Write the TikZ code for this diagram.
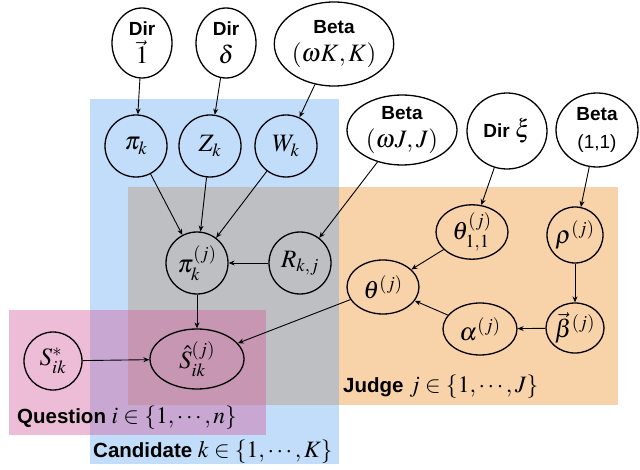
\documentclass[tikz,border=0pt]{standalone}
\usepackage{mathptmx}
\usepackage[no-math]{fontspec}
\setmainfont{Liberation Sans}
\usetikzlibrary{shapes.geometric,arrows.meta}
\definecolor{candblue}{RGB}{194,221,249}
\definecolor{judgeorange}{RGB}{248,211,170}
\definecolor{bothgray}{RGB}{190,191,195}
\definecolor{questpink}{RGB}{210,90,155}
\newcommand{\bword}[2][19]{{\fontsize{#1}{#1}\selectfont\bfseries #2}}
\begin{document}
\begin{tikzpicture}[x=1pt,y=-1pt,
	var/.style={draw,ellipse,line width=1.3pt,inner sep=0pt,align=center,font=\fontsize{25}{28}\selectfont},
	edge/.style={-{Stealth[length=6pt,width=5pt]},line width=0.9pt},
	plate/.style={anchor=west,inner sep=0pt,font=\fontsize{23.5}{26}\selectfont}]
			\useasboundingbox (0,0) rectangle (640,470);
			\fill[candblue] (90,99) rectangle (339,464);
			\fill[judgeorange] (339,187) rectangle (618,405);
			\fill[bothgray] (128,187) rectangle (339,405);
			\fill[questpink,fill opacity=0.4] (9,310) rectangle (266,435);
			\node[plate] (question) at (17,418) {\bword[20.5]{Question }$i\in\{1,\cdots,n\}$};
			\node[plate] (candidate) at (93,452) {\bword[20.5]{Candidate }$k\in\{1,\cdots,K\}$};
			\node[plate] (judge) at (343,387) {\bword[20.5]{Judge }$j\in\{1,\cdots,J\}$};
			\node[var,minimum width=60,minimum height=70] (dirpi) at (142,43) {\bword{Dir}\\$\vec{1}$};
			\node[var,minimum width=60,minimum height=70] (dirz) at (226,43) {\bword{Dir}\\$\delta$};
			\node[var,minimum width=112,minimum height=84] (betaw) at (334,44) {\bword{Beta}\\$(\omega K,K)$};
			\node[var,minimum width=110,minimum height=70] (betar) at (402,130) {\bword{Beta}\\$(\omega J,J)$};
			\node[var,minimum width=80,minimum height=76] (dirtheta) at (507,131) {\bword{Dir }$\xi$};
			\node[var,minimum width=82,minimum height=74] (betarho) at (597,130) {\bword{Beta}\\{\fontsize{19}{19}\selectfont(1,1)}};
			\node[var,minimum size=62] (pik) at (136,146) {$\pi_k$};
			\node[var,minimum size=62] (zk) at (210,146) {$Z_k$};
			\node[var,minimum size=62] (wk) at (286,146) {$W_k$};
			\node[var,minimum size=62] (pikj) at (197,263) {$\pi_k^{(j)}$};
			\node[var,minimum size=62] (rkj) at (300,263) {$R_{k,j}$};
			\node[var,minimum width=72,minimum height=50] (thetaone) at (472,232) {$\theta_{1,1}^{(j)}$};
			\node[var,minimum width=56,minimum height=56] (rho) at (575,235) {$\rho^{(j)}$};
			\node[var,minimum width=72,minimum height=54] (theta) at (383,287) {$\theta^{(j)}$};
			\node[var,minimum width=74,minimum height=52] (alpha) at (480,329) {$\alpha^{(j)}$};
			\node[var,minimum width=58,minimum height=50] (beta) at (575,328) {$\vec{\beta}^{(j)}$};
			\node[var,minimum width=94,minimum height=60] (shat) at (197,359) {$\hat{S}_{ik}^{(j)}$};
			\node[var,minimum size=58] (sstar) at (53,361) {$S_{ik}^{*}$};
			\draw[edge] (dirpi) to (pik);
			\draw[edge] (dirz) to (zk);
			\draw[edge] (betaw) to (wk);
			\draw[edge] (pik) to (pikj);
			\draw[edge] (zk) to (pikj);
			\draw[edge] (wk) to (pikj);
			\draw[edge] (betar) to (rkj);
			\draw[edge] (rkj) to (pikj);
			\draw[edge] (pikj) to (shat);
			\draw[edge] (sstar) to (shat);
			\draw[edge] (theta) to (shat);
			\draw[edge] (dirtheta) to (thetaone);
			\draw[edge] (thetaone) to (theta);
			\draw[edge] (alpha) to (theta);
			\draw[edge] (beta) to (alpha);
			\draw[edge] (betarho) to (rho);
			\draw[edge] (rho) to (beta);
\end{tikzpicture}
\end{document}
